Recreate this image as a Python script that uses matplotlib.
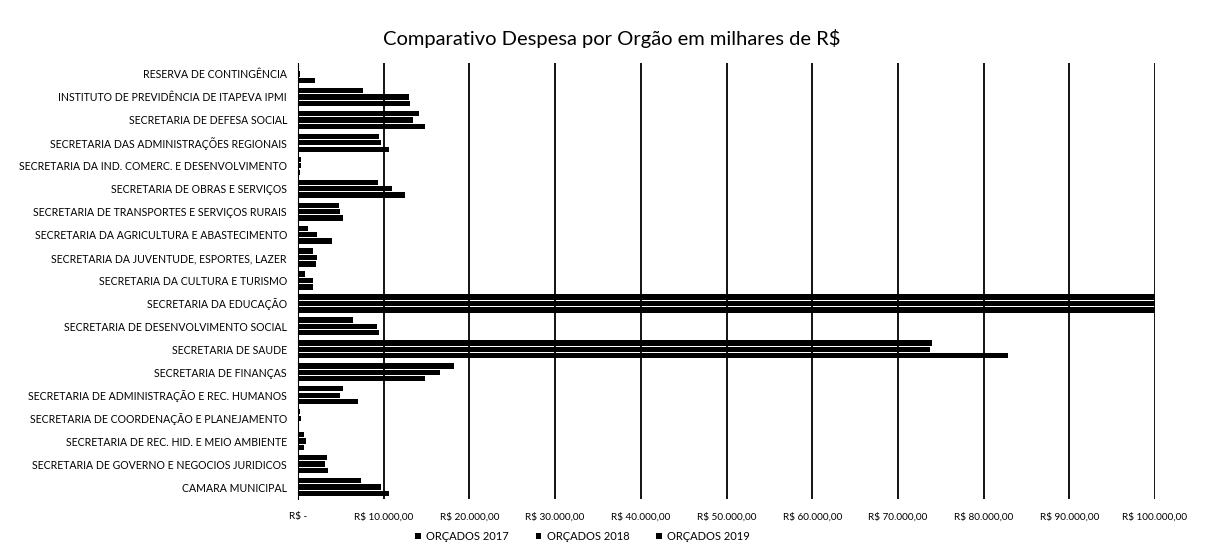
import numpy as np
import matplotlib.pyplot as plt
from matplotlib.ticker import FuncFormatter

plt.rcParams['font.family'] = ['Lato', 'DejaVu Sans']

# Dados (milhares de R$), de baixo para cima
orgaos = [
    "CAMARA MUNICIPAL",
    "SECRETARIA DE GOVERNO E NEGOCIOS JURIDICOS",
    "SECRETARIA DE REC. HID. E MEIO AMBIENTE",
    "SECRETARIA DE COORDENAÇÃO E PLANEJAMENTO",
    "SECRETARIA DE ADMINISTRAÇÃO E REC. HUMANOS",
    "SECRETARIA DE FINANÇAS",
    "SECRETARIA DE SAUDE",
    "SECRETARIA DE DESENVOLVIMENTO SOCIAL",
    "SECRETARIA DA EDUCAÇÃO",
    "SECRETARIA DA CULTURA E TURISMO",
    "SECRETARIA DA JUVENTUDE, ESPORTES, LAZER",
    "SECRETARIA DA AGRICULTURA E ABASTECIMENTO",
    "SECRETARIA DE TRANSPORTES E SERVIÇOS RURAIS",
    "SECRETARIA DE OBRAS E SERVIÇOS",
    "SECRETARIA DA IND. COMERC. E DESENVOLVIMENTO",
    "SECRETARIA DAS ADMINISTRAÇÕES REGIONAIS",
    "SECRETARIA DE DEFESA SOCIAL",
    "INSTITUTO DE PREVIDÊNCIA DE ITAPEVA IPMI",
    "RESERVA DE CONTINGÊNCIA",
]
orcados_2017 = [7300, 3400, 700, 200, 5300, 18200, 74000, 6400, 108000, 800, 1700, 1200, 4800, 9300, 300, 9500, 14100, 7600, 100]
orcados_2018 = [9700, 3200, 900, 300, 4900, 16600, 73700, 9200, 110000, 1700, 2200, 2200, 4900, 11000, 300, 9700, 13400, 13000, 200]
orcados_2019 = [10600, 3500, 700, 100, 7000, 14800, 82800, 9500, 112000, 1700, 2100, 4000, 5300, 12500, 200, 10600, 14800, 13100, 2000]
series = ["ORÇADOS 2017", "ORÇADOS 2018", "ORÇADOS 2019"]

fig = plt.figure(figsize=(12.09, 5.51), dpi=100)
ax = fig.add_axes([298 / 1209, 52.5 / 551, 857 / 1209, 436 / 551])

y = np.arange(len(orgaos))
h = 0.23
for off, vals, nome in zip([0.28, 0, -0.28], [orcados_2017, orcados_2018, orcados_2019], series):
    ax.barh(y + off, vals, height=h, color='black', label=nome, zorder=3)

ax.set_xlim(0, 100000)
ax.set_ylim(-0.5, len(orgaos) - 0.5)
ax.set_xticks(np.arange(0, 100001, 10000))

def fmt(v, pos):
    if v == 0:
        return "R$ -"
    return "R$ " + f"{v:,.2f}".replace(",", "X").replace(".", ",").replace("X", ".")

ax.xaxis.set_major_formatter(FuncFormatter(fmt))
ax.set_yticks(y)
ax.set_yticklabels(orgaos, fontsize=7.6)
ax.tick_params(axis='both', length=0, colors='black')
ax.tick_params(axis='x', labelsize=7.2, pad=10)
ax.tick_params(axis='y', pad=8)
ax.grid(axis='x', color='black', linewidth=1.3, zorder=0)
for s in ['top', 'right', 'bottom']:
    ax.spines[s].set_visible(False)
ax.spines['left'].set_linewidth(0.8)

fig.text(0.506, 0.93, "Comparativo Despesa por Orgão em milhares de R$", ha='center', va='center', fontsize=14.5)
fig.legend(loc='center', bbox_to_anchor=(0.482, 0.027), ncol=3, frameon=False, fontsize=8,
           handlelength=0.5, handleheight=0.5, columnspacing=2.4, handletextpad=0.5)

fig.savefig("out.png", dpi=100)
